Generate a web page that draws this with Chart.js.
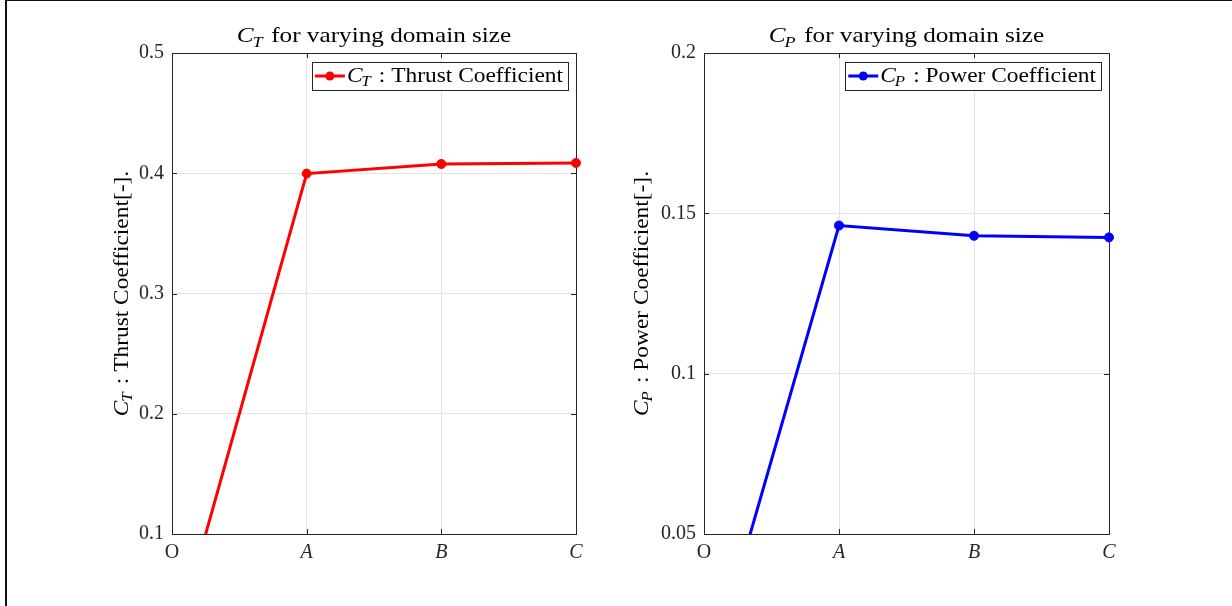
<!DOCTYPE html>
<html><head><meta charset="utf-8">
<script src="https://cdn.jsdelivr.net/npm/chart.js@4/dist/chart.umd.min.js"></script>
<style>
html,body{margin:0;padding:0;background:#fff;}
#wrap{position:relative;width:1232px;height:606px;overflow:hidden;background:#fff;}
#frame{position:absolute;left:5px;top:0;width:1300px;height:700px;border-left:2px solid #111;border-top:1px solid #111;}
canvas{position:absolute;top:0;}
</style></head><body>
<div id="wrap"><div id="frame"></div>
<canvas id="c1" width="616" height="606" style="left:0"></canvas>
<canvas id="c2" width="616" height="606" style="left:616px"></canvas>
</div>
<script>
// ---- data ----
const categories = ['O', 'A', 'B', 'C'];
const thrustValues = [0.0, 0.3997, 0.4077, 0.4086];
const powerValues = [0.0, 0.1462, 0.1430, 0.1425];
const thrustTicks = [0.1, 0.2, 0.3, 0.4, 0.5];
const powerTicks = [0.05, 0.1, 0.15, 0.2];

const FONT = '"Liberation Serif", "Times New Roman", serif';
const AXIS = '#262626';

function measureMath(ctx, main, sub, rest, size, hs) {
  ctx.font = `italic ${size}px ${FONT}`; const w1 = ctx.measureText(main).width;
  ctx.font = `italic ${size * 0.72}px ${FONT}`; const w2 = ctx.measureText(sub).width;
  ctx.font = `${size}px ${FONT}`; const w3 = ctx.measureText(rest).width;
  return { w1, w2, w3, total: (w1 + w2 + w3 + 1) * hs };
}

function drawMath(ctx, x, y, main, sub, rest, size, align, hs) {
  const m = measureMath(ctx, main, sub, rest, size, hs);
  let sx = align === 'center' ? x - m.total / 2 : (align === 'right' ? x - m.total : x);
  ctx.save();
  ctx.translate(sx, y);
  ctx.scale(hs, 1);
  ctx.textAlign = 'left'; ctx.textBaseline = 'alphabetic'; ctx.fillStyle = '#000';
  ctx.font = `italic ${size}px ${FONT}`; ctx.fillText(main, 0, 0);
  ctx.font = `italic ${size * 0.72}px ${FONT}`; ctx.fillText(sub, m.w1 - 1, size * 0.22);
  ctx.font = `${size}px ${FONT}`; ctx.fillText(rest, m.w1 + m.w2 + 1, 0);
  ctx.restore();
  return m.total;
}

function makeChart(id, values, ticks, color, sub, yLabelRest, legendRest, yWidth, padRight, yLabelX) {
  const decor = {
    id: 'decor',
    beforeDatasetsDraw(chart) {
      const ctx = chart.ctx, a = chart.chartArea;
      const xs = chart.scales.x, ys = chart.scales.y;
      ctx.save();
      ctx.strokeStyle = AXIS; ctx.lineWidth = 1;
      ctx.beginPath();
      ys.ticks.forEach(t => {
        const py = Math.round(ys.getPixelForValue(t.value)) + 0.5;
        ctx.moveTo(a.left, py); ctx.lineTo(a.left + 5, py);
        ctx.moveTo(a.right, py); ctx.lineTo(a.right - 5, py);
      });
      xs.ticks.forEach((t, i) => {
        const px = Math.round(xs.getPixelForTick(i)) + 0.5;
        ctx.moveTo(px, a.bottom); ctx.lineTo(px, a.bottom - 5);
        ctx.moveTo(px, a.top); ctx.lineTo(px, a.top + 5);
      });
      ctx.stroke();
      ctx.strokeRect(Math.round(a.left) + 0.5, Math.round(a.top) + 0.5, Math.round(a.right - a.left), Math.round(a.bottom - a.top));
      ctx.restore();
    },
    afterDraw(chart) {
      const ctx = chart.ctx, a = chart.chartArea;
      ctx.save();
      // title
      drawMath(ctx, (a.left + a.right) / 2, 42, 'C', sub, ' for varying domain size', 21, 'center', 1.2);
      // y label
      ctx.save();
      ctx.translate(yLabelX, (a.top + a.bottom) / 2);
      ctx.rotate(-Math.PI / 2);
      drawMath(ctx, 0, 0, 'C', sub, ' : ' + yLabelRest, 20, 'center', 1.17);
      ctx.restore();
      // legend
      const size = 20, hs = 1.17;
      const tw = measureMath(ctx, 'C', sub, ' : ' + legendRest, size, hs).total;
      const boxR = Math.round(a.right - 8), boxT = Math.round(a.top + 9);
      const textX = boxR - 5 - tw;
      const lineR = textX - 2, lineL = lineR - 30;
      const boxL = Math.round(lineL - 3), boxB = boxT + 28;
      ctx.fillStyle = '#fff';
      ctx.fillRect(boxL, boxT, boxR - boxL, boxB - boxT);
      ctx.strokeStyle = AXIS; ctx.lineWidth = 1;
      ctx.strokeRect(boxL + 0.5, boxT + 0.5, boxR - boxL, boxB - boxT);
      const cy = boxT + 14;
      ctx.strokeStyle = color; ctx.lineWidth = 3;
      ctx.beginPath(); ctx.moveTo(lineL, cy); ctx.lineTo(lineR, cy); ctx.stroke();
      ctx.fillStyle = color;
      ctx.beginPath(); ctx.arc((lineL + lineR) / 2, cy, 4.5, 0, Math.PI * 2); ctx.fill();
      drawMath(ctx, textX, cy + 6, 'C', sub, ' : ' + legendRest, size, 'left', hs);
      ctx.restore();
    }
  };
  return new Chart(document.getElementById(id), {
    type: 'line',
    data: {
      labels: categories,
      datasets: [{
        label: legendRest,
        data: values,
        borderColor: color,
        backgroundColor: color,
        borderWidth: 3,
        pointRadius: 4.5,
        pointHoverRadius: 4.5,
        pointBackgroundColor: color,
        pointBorderColor: color,
        pointBorderWidth: 1,
        tension: 0,
        clip: { left: 0, top: 8, right: 8, bottom: 0 }
      }]
    },
    options: {
      responsive: false,
      animation: false,
      events: [],
      layout: { padding: { top: 53, right: padRight, bottom: 0, left: 0 } },
      plugins: { legend: { display: false }, title: { display: false }, tooltip: { enabled: false } },
      scales: {
        x: {
          type: 'category',
          offset: false,
          afterFit: s => { s.height = 72; },
          grid: { color: '#e3e3e3', lineWidth: 1, drawTicks: false },
          border: { display: false },
          ticks: {
            color: '#262626', padding: 7, maxRotation: 0, autoSkip: false,
            font: c => ({ family: FONT, size: 20, style: c.index === 0 ? 'normal' : 'italic' })
          }
        },
        y: {
          min: ticks[0], max: ticks[ticks.length - 1],
          afterFit: s => { s.width = yWidth; },
          afterBuildTicks: s => { s.ticks = ticks.map(v => ({ value: v })); },
          grid: { color: '#e3e3e3', lineWidth: 1, drawTicks: false },
          border: { display: false },
          ticks: {
            color: '#262626', padding: 8,
            font: { family: FONT, size: 20 },
            callback: v => String(Number(v.toFixed(2)))
          }
        }
      }
    },
    plugins: [decor]
  });
}

makeChart('c1', thrustValues, thrustTicks, '#ff0000', 'T', 'Thrust Coefficient[-].', 'Thrust Coefficient', 172, 40, 128);
makeChart('c2', powerValues, powerTicks, '#0000ff', 'P', 'Power Coefficient[-].', 'Power Coefficient', 88, 123, 32);
</script>
</body></html>
